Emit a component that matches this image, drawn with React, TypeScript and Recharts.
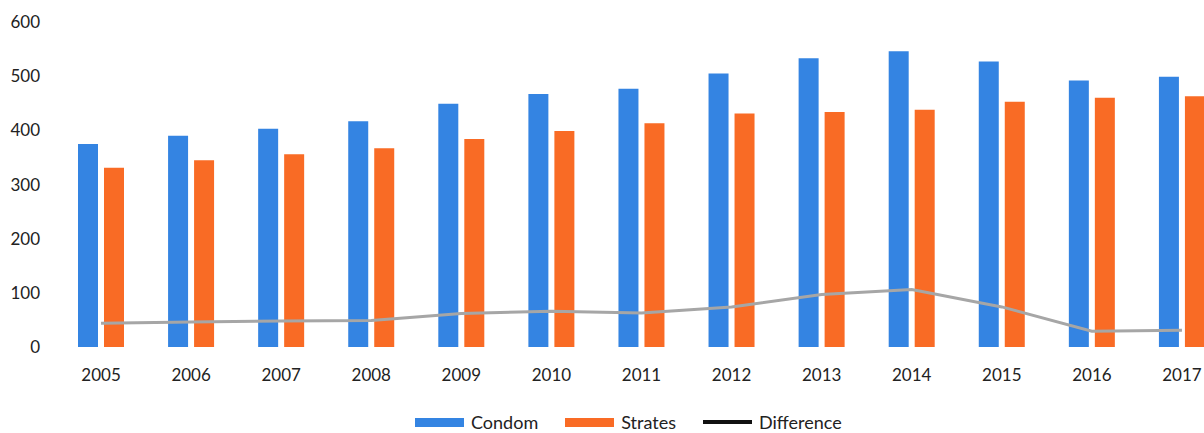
import React from "react";
import { ComposedChart, Bar, Line, XAxis, YAxis, Legend } from "recharts";

const years = ["2005", "2006", "2007", "2008", "2009", "2010", "2011", "2012", "2013", "2014", "2015", "2016", "2017"];
const condom = [375, 390, 403, 417, 449, 467, 477, 505, 533, 546, 527, 492, 499];
const strates = [331, 345, 356, 367, 384, 399, 413, 431, 434, 438, 453, 460, 463];
const difference = [44, 46, 48, 49, 62, 66, 63, 74, 97, 106, 74, 29, 31];
const yTicks = [0, 100, 200, 300, 400, 500, 600];

const BLUE = "#3484e2";
const ORANGE = "#f96b25";
const GRAY = "#a6a6a6";
const FONT = "Lato, 'Open Sans', sans-serif";

const data = years.map((y, i) => ({
  year: y,
  Condom: condom[i],
  Strates: strates[i],
  Difference: difference[i],
}));

const legendItems = [
  { name: "Condom", color: BLUE, kind: "rect" },
  { name: "Strates", color: ORANGE, kind: "rect" },
  { name: "Difference", color: "#111111", kind: "line" },
];

const LegendContent = () => (
  <div style={{ display: "flex", alignItems: "center", fontFamily: FONT, fontSize: 18, color: "#222" }}>
    {legendItems.map((it, i) => (
      <div key={it.name} style={{ display: "flex", alignItems: "center", marginRight: i < legendItems.length - 1 ? 27 : 0 }}>
        <div
          style={{
            width: 49,
            height: it.kind === "rect" ? 9 : 4,
            background: it.color,
            marginRight: 7,
          }}
        />
        <span>{it.name}</span>
      </div>
    ))}
  </div>
);

export default function App() {
  return (
    <div style={{ position: "absolute", left: 0, top: 0, width: 1204, height: 433, overflow: "hidden", background: "#fff" }}>
      <ComposedChart
        width={1240}
        height={433}
        data={data}
        margin={{ top: 22, right: 13, left: 0, bottom: 56 }}
        barSize={20}
        barGap={6}
      >
        <XAxis
          dataKey="year"
          axisLine={false}
          tickLine={false}
          tickSize={0}
          tickMargin={22}
          height={30}
          interval={0}
          tick={{ fontFamily: FONT, fontSize: 17, fill: "#222" }}
        />
        <YAxis
          domain={[0, 600]}
          ticks={yTicks}
          axisLine={false}
          tickLine={false}
          tickSize={0}
          tickMargin={16}
          width={56}
          tick={{ fontFamily: FONT, fontSize: 17, fill: "#222" }}
        />
        <Legend
          layout="horizontal"
          verticalAlign="middle"
          align="center"
          content={<LegendContent />}
          wrapperStyle={{ position: "absolute", top: 411, left: 415, width: "auto" }}
        />
        <Bar dataKey="Condom" fill={BLUE} isAnimationActive={false} />
        <Bar dataKey="Strates" fill={ORANGE} isAnimationActive={false} />
        <Line
          type="linear"
          dataKey="Difference"
          stroke={GRAY}
          strokeWidth={3}
          dot={false}
          activeDot={false}
          isAnimationActive={false}
        />
      </ComposedChart>
    </div>
  );
}
